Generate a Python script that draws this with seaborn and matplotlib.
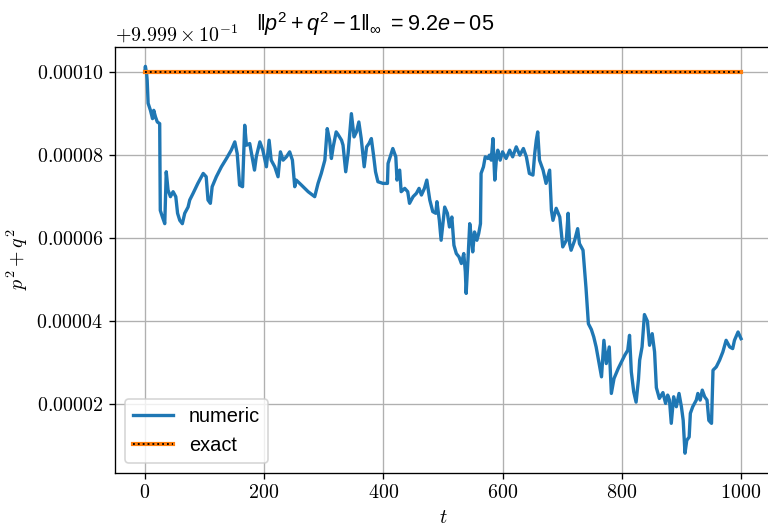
import seaborn as sns
import matplotlib.pyplot as plt
from matplotlib.ticker import ScalarFormatter
from matplotlib.legend_handler import HandlerTuple

# numeric p^2+q^2, stored as (value - 0.9999) in units of 1e-5
t = [0, 1, 3, 4, 5.6, 9.5, 13, 15, 18, 21, 25, 26, 29.6, 33.5, 36, 39, 43, 47.5, 52, 55,
     58.7, 63, 67, 72.6, 75.4, 81, 89, 98, 103, 106, 110, 113, 120, 128.5, 137, 145, 151, 155,
     159, 164, 167.6, 170.5, 176, 184, 187, 193, 198, 204, 208.5, 212, 218, 223.5, 227.5, 232,
     237.5, 243, 247.6, 251.5, 254, 262.7, 274, 285, 290.6, 296, 302, 306, 310, 313, 316, 321,
     324, 330, 332.5, 337, 341, 346.5, 351, 355, 359, 363, 368, 372, 376, 380, 384, 387, 391,
     399.5, 407, 408, 416, 421, 423, 427.5, 430, 436, 441, 444, 450, 455.5, 460, 464, 469, 473,
     478, 483, 488, 490, 494, 497, 503, 507.5, 511, 515, 518.5, 522.5, 527, 531, 535, 537.6,
     539, 542, 545, 547.6, 550, 553, 557, 560, 563, 564, 568, 571, 575.5, 578, 581, 584, 587,
     590, 592, 596, 600, 606, 612, 617, 623, 629, 635, 640, 645, 651, 654, 656.6, 659, 662, 668,
     673, 679, 682, 684.6, 690, 696, 701, 707, 710, 712.5, 715, 721, 726, 729, 735, 740, 744,
     749, 753, 757, 763, 766, 770, 774, 779, 782.5, 787, 794, 805, 810, 813, 816, 820, 824, 828,
     830, 834, 838, 843, 846.6, 851, 855, 858, 863, 869, 873.5, 877, 880, 883, 887, 891.5, 896,
     900, 903, 906, 909, 913, 915, 919, 925, 927.6, 931.5, 935, 939, 943, 946, 950.5, 953,
     958.5, 964, 969.5, 975, 981, 986, 989, 995, 1000]
dev = [10.0, 10.14, 9.97, 9.81, 9.25, 9.08, 8.88, 9.08, 8.92, 8.80, 8.76, 6.67, 6.51, 6.35,
       7.6, 7.16, 7.0, 7.12, 7.0, 6.6, 6.43, 6.35, 6.6, 6.75, 6.92, 7.08, 7.32, 7.56, 7.48, 6.92,
       6.84, 7.24, 7.48, 7.72, 7.92, 8.12, 8.32, 8.04, 7.28, 7.24, 8.72, 8.24, 8.28, 7.64, 7.96,
       8.32, 8.12, 7.72, 8.36, 7.88, 7.72, 7.48, 8.08, 7.88, 7.96, 8.08, 7.88, 7.24, 7.40, 7.28,
       7.12, 7.0, 7.32, 7.56, 7.88, 8.64, 8.36, 7.92, 8.2, 8.56, 8.5, 8.36, 8.24, 7.6, 8.04, 9.0,
       8.44, 8.56, 8.80, 8.4, 7.72, 8.2, 8.28, 8.4, 7.96, 7.6, 7.36, 7.32, 7.32, 7.8, 8.16, 7.96,
       7.4, 7.64, 7.12, 7.2, 7.12, 6.84, 7.0, 7.08, 7.2, 7.04, 7.2, 7.4, 6.92, 6.64, 6.6, 6.88,
       6.43, 5.95, 6.75, 6.6, 6.27, 6.51, 5.83, 5.63, 5.55, 5.39, 5.63, 5.19, 4.67, 5.47, 6.35,
       6.03, 5.67, 6.15, 5.95, 6.11, 6.35, 7.56, 7.72, 7.96, 7.92, 8.0, 7.88, 8.4, 7.4, 7.96,
       8.12, 7.88, 8.08, 7.92, 8.12, 7.96, 8.2, 8.0, 8.16, 7.96, 7.56, 7.52, 8.04, 8.36, 8.56,
       7.88, 7.64, 7.32, 7.64, 6.67, 6.43, 6.72, 6.51, 5.79, 5.95, 6.6, 5.87, 5.71, 5.95, 6.23,
       5.87, 5.71, 4.8, 3.94, 3.8, 3.62, 3.38, 2.9, 2.66, 3.54, 2.98, 3.38, 2.26, 2.62, 2.86,
       3.18, 3.30, 3.66, 2.78, 2.3, 2.05, 2.6, 3.06, 3.38, 4.16, 4.0, 3.42, 3.70, 3.26, 2.4,
       2.14, 2.28, 2.02, 2.22, 2.1, 1.54, 2.18, 1.94, 2.26, 1.94, 1.61, 0.82, 1.13, 1.21, 1.78,
       1.94, 2.1, 2.26, 2.1, 2.34, 2.18, 2.1, 1.61, 1.54, 2.82, 2.9, 3.06, 3.26, 3.54, 3.38,
       3.34, 3.54, 3.74, 3.58]
numeric = [0.9999 + d * 1e-5 for d in dev]

t_exact = [0, 1000]
exact = [1.0, 1.0]

title = r"$\|p^2+q^2-1\|_{\infty}\ = 9.2e-05$"

plt.rcParams["font.family"] = "serif"
plt.rcParams["font.serif"] = ["cmr10"]
plt.rcParams["mathtext.fontset"] = "cm"
plt.rcParams["axes.formatter.use_mathtext"] = True
plt.rcParams["mathtext.rm"] = "Liberation Sans"
plt.rcParams["mathtext.it"] = "Liberation Sans:italic"
plt.rcParams["font.size"] = 12

fig = plt.figure(figsize=(6.4, 4.4), dpi=120)
ax = fig.add_axes([0.1497, 0.105, 0.854, 0.806])

sns.lineplot(x=t, y=numeric, ax=ax, color="C0", lw=2, sort=False)
sns.lineplot(x=t_exact, y=exact, ax=ax, color="C1", lw=2.5)
sns.lineplot(x=t_exact, y=exact, ax=ax, color="k", lw=1.1, ls=":")
l_num, l_or, l_dot = ax.get_lines()[:3]

fmt = ScalarFormatter(useOffset=0.9999, useMathText=True)
ax.yaxis.set_major_formatter(fmt)
ax.grid(True)
ax.set_xlabel("$t$")
ax.set_ylabel("$p^2+q^2$")

ax.legend([l_num, (l_or, l_dot)], ["numeric", "exact"], loc="lower left",
          handler_map={tuple: HandlerTuple(ndivide=1)},
          prop={"family": ["Liberation Sans Narrow", "Liberation Sans"], "size": 12})

fig.text(0.488, 1 - 10 / 528, title, ha="center", va="top", fontsize=13,
         math_fontfamily="custom")

fig.savefig("out.png", dpi=120)
